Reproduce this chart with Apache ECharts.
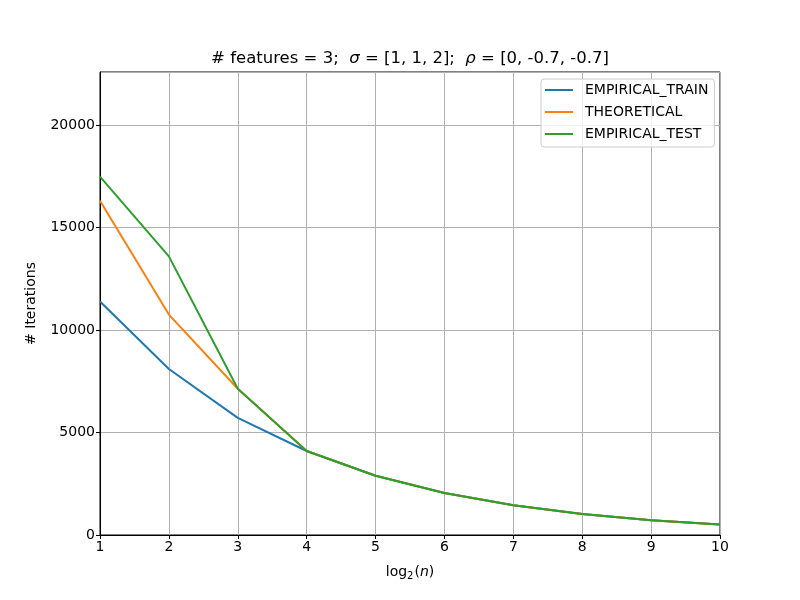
<!DOCTYPE html>
<html>
<head>
<meta charset="utf-8">
<script src="https://cdn.jsdelivr.net/npm/echarts@6/dist/echarts.min.js"></script>
<style>
  html, body { margin: 0; padding: 0; background: #fff; }
  #chart { width: 800px; height: 600px; }
</style>
</head>
<body>
<div id="chart"></div>
<script>
// log2(n) values on the x axis
const xValues = [1, 2, 3, 4, 5, 6, 7, 8, 9, 10];
const empiricalTrain = [11400, 8100, 5720, 4100, 2890, 2050, 1450, 1025, 725, 512];
const theoretical = [16320, 10760, 7140, 4100, 2890, 2050, 1450, 1025, 725, 512];
const empiricalTest = [17490, 13600, 7140, 4100, 2890, 2050, 1450, 1025, 725, 512];
const seriesNames = ["EMPIRICAL_TRAIN", "THEORETICAL", "EMPIRICAL_TEST"];
const seriesColors = ["#1f77b4", "#ff7f0e", "#2ca02c"];

function pairs(values) {
  return xValues.map((x, i) => [x, values[i]]);
}

var dom = document.getElementById("chart");
var myChart = echarts.init(dom);
const font = "DejaVu Sans";

const option = {
  animation: false,
  textStyle: { fontFamily: font },
  title: {
    text: "# features = 3;  {i|σ} = [1, 1, 2];  {i|ρ} = [0, -0.7, -0.7]",
    left: 405,
    top: 45,
    textAlign: "center",
    textStyle: {
      fontFamily: font,
      fontSize: 16.5,
      fontWeight: "normal",
      color: "#000",
      rich: {
        i: { fontFamily: font, fontSize: 16.5, fontStyle: "italic", color: "#000" },
      },
    },
  },
  grid: {
    left: 100,
    right: 80,
    top: 72,
    bottom: 65,
    show: true,
    borderColor: "#000",
    borderWidth: 1,
  },
  legend: {
    data: seriesNames,
    orient: "vertical",
    left: 541,
    top: 79,
    padding: [4, 6, 6, 4],
    itemGap: 8,
    itemWidth: 28,
    itemHeight: 2,
    icon: "rect",
    backgroundColor: "rgba(255,255,255,0.8)",
    borderColor: "#cccccc",
    borderWidth: 1,
    borderRadius: 3,
    textStyle: { fontFamily: font, fontSize: 14, color: "#000", padding: [0, 0, 0, 7] },
  },
  xAxis: {
    type: "value",
    min: 1,
    max: 10,
    interval: 1,
    name: "log{s|2}({it|n})",
    nameLocation: "middle",
    nameGap: 29,
    nameTextStyle: {
      fontFamily: font,
      fontSize: 14,
      color: "#000",
      rich: {
        s: { fontSize: 10, verticalAlign: "bottom", padding: [7, 1, 0, 0], color: "#000" },
        it: { fontStyle: "italic", fontSize: 14, color: "#000" },
      },
    },
    axisLine: { show: true, lineStyle: { color: "#000", width: 1 } },
    axisTick: { show: true, inside: false, length: 4, lineStyle: { color: "#000" } },
    axisLabel: { color: "#000", fontSize: 14, margin: 5 },
    splitLine: { show: true, lineStyle: { color: "#b0b0b0", width: 1 } },
  },
  yAxis: {
    type: "value",
    min: 0,
    max: 22600,
    interval: 5000,
    name: "# Iterations",
    nameLocation: "middle",
    nameGap: 62,
    nameTextStyle: { fontFamily: font, fontSize: 14, color: "#000" },
    axisLine: { show: true, lineStyle: { color: "#000", width: 1 } },
    axisTick: { show: true, inside: false, length: 4, lineStyle: { color: "#000" } },
    axisLabel: {
      color: "#000",
      fontSize: 14,
      margin: 5,
      showMaxLabel: false,
      formatter: (v) => String(v),
    },
    splitLine: { show: true, lineStyle: { color: "#b0b0b0", width: 1 } },
  },
  series: [empiricalTrain, theoretical, empiricalTest].map((vals, i) => ({
    name: seriesNames[i],
    type: "line",
    data: pairs(vals),
    showSymbol: false,
    symbol: "none",
    color: seriesColors[i],
    lineStyle: { color: seriesColors[i], width: 2 },
  })),
};

myChart.setOption(option);
</script>
</body>
</html>
